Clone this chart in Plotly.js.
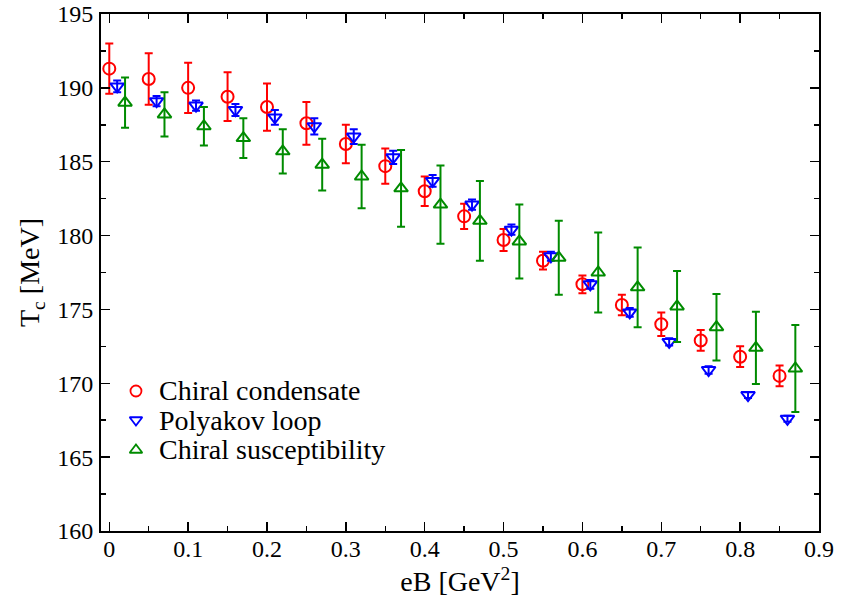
<!DOCTYPE html>
<html><head><meta charset="utf-8">
<script src="https://cdn.plot.ly/plotly-3.0.1.min.js"></script>
<style>html,body{margin:0;padding:0;background:#fff}</style>
</head><body>
<div id="chart" style="width:843px;height:602px"></div>
<script>
const xCond = [0,0.05,0.1,0.15,0.2,0.25,0.3,0.35,0.4,0.45,0.5,0.55,0.6,0.65,0.7,0.75,0.8,0.85];
const yCond = [191.3,190.6,190.0,189.4,188.7,187.6,186.2,184.7,183.0,181.3,179.7,178.3,176.7,175.3,174.0,172.9,171.8,170.5];
const eCond = [1.7,1.75,1.7,1.65,1.6,1.45,1.3,1.2,1.0,0.85,0.75,0.6,0.6,0.7,0.8,0.7,0.7,0.7];

const xPoly = [0.01,0.06,0.11,0.16,0.21,0.26,0.31,0.36,0.41,0.46,0.51,0.56,0.61,0.66,0.71,0.76,0.81,0.86];
const yPoly = [190.1,189.1,188.8,188.5,188.0,187.4,186.7,185.3,183.7,182.1,180.4,178.6,176.7,174.8,172.8,170.9,169.2,167.6];
const ePoly = [0.4,0.35,0.35,0.4,0.5,0.55,0.5,0.45,0.4,0.35,0.35,0.3,0.3,0.3,0.25,0.25,0.2,0.2];

const xSusc = [0.02,0.07,0.12,0.17,0.22,0.27,0.32,0.37,0.42,0.47,0.52,0.57,0.62,0.67,0.72,0.77,0.82,0.87];
const ySusc = [189.0,188.2,187.4,186.6,185.7,184.8,184.0,183.2,182.1,181.0,179.6,178.5,177.5,176.5,175.2,173.8,172.4,171.0];
const eSusc = [1.7,1.5,1.3,1.35,1.5,1.75,2.15,2.6,2.65,2.7,2.5,2.5,2.7,2.7,2.4,2.25,2.45,2.95];

const names = ['Chiral condensate','Polyakov loop','Chiral susceptibility'];
const colors = ['#ff0000','#0000ff','#008b00'];
const symbols = ['circle-open','triangle-down-open','triangle-up-open'];
const sizes = [12,12,12];

// legend layout (paper fractions)
const legSymX = 0.0487, legTextX = 0.078;
const legY = [0.2708,0.2147,0.1567];

function tr(x,y,e,i){
  return {x:x,y:y,name:names[i],type:'scatter',mode:'markers',showlegend:false,
    marker:{symbol:symbols[i],size:sizes[i],color:colors[i],line:{color:colors[i],width:2}},
    error_y:{type:'data',array:e,visible:true,color:colors[i],thickness:2,width:4},
    cliponaxis:false};
}
const data = [tr(xCond,yCond,eCond,0),tr(xPoly,yPoly,ePoly,1),tr(xSusc,ySusc,eSusc,2)];
for(let i=0;i<3;i++){
  data.push({x:[legSymX],y:[legY[i]],xaxis:'x2',yaxis:'y2',type:'scatter',mode:'markers',showlegend:false,
    hoverinfo:'skip',marker:{symbol:symbols[i],size:sizes[i]-1,color:colors[i],line:{color:colors[i],width:1.8}}});
}

const fam = 'Liberation Serif, Times New Roman, serif';
const annotations = names.map((n,i)=>({text:n,xref:'paper',yref:'paper',x:legTextX,y:legY[i],
  xanchor:'left',yanchor:'middle',showarrow:false,font:{family:fam,size:28,color:'#000'}}));

const layout = {
  width:843,height:602,
  margin:{l:101,r:24,t:14,b:71},
  paper_bgcolor:'#fff',plot_bgcolor:'#fff',
  font:{family:fam,size:24,color:'#000'},
  showlegend:false,
  annotations:annotations,
  xaxis:{range:[-0.0105,0.9],dtick:0.1,tick0:0,ticks:'inside',ticklen:9,tickwidth:1.5,tickcolor:'#000',
    minor:{dtick:0.05,ticks:'inside',ticklen:5,tickwidth:1.5,tickcolor:'#000'},
    showline:true,linecolor:'#000',linewidth:2,mirror:'ticks',showgrid:false,zeroline:false,
    tickfont:{family:fam,size:24,color:'#000'},ticklabelstandoff:-5,
    title:{text:'eB [GeV<sup>2</sup>]',font:{family:fam,size:28,color:'#000'},standoff:11}},
  yaxis:{range:[160,195],dtick:5,tick0:160,ticks:'inside',ticklen:9,tickwidth:1.5,tickcolor:'#000',
    minor:{dtick:2.5,ticks:'inside',ticklen:5,tickwidth:1.5,tickcolor:'#000'},
    showline:true,linecolor:'#000',linewidth:2,mirror:'ticks',showgrid:false,zeroline:false,
    tickfont:{family:fam,size:24,color:'#000'},ticklabelstandoff:1,
    title:{text:'T<sub>c</sub> [MeV]',font:{family:fam,size:28,color:'#000'},standoff:9}},
  xaxis2:{overlaying:'x',range:[0,1],visible:false,fixedrange:true},
  yaxis2:{overlaying:'y',range:[0,1],visible:false,fixedrange:true}
};
Plotly.newPlot('chart',data,layout,{displayModeBar:false,staticPlot:true});
</script>
</body></html>
